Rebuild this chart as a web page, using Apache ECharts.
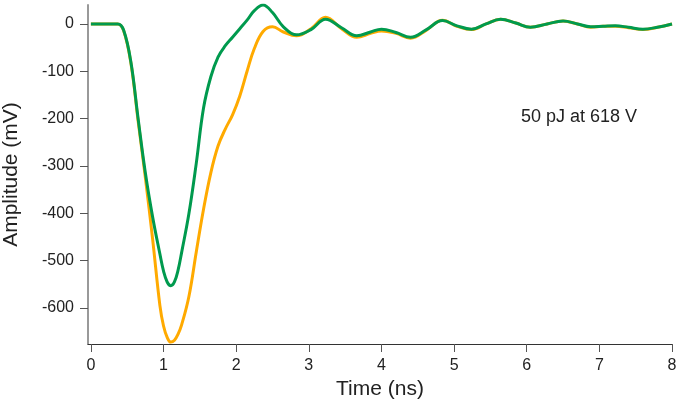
<!DOCTYPE html>
<html>
<head>
<meta charset="utf-8">
<script src="https://cdn.jsdelivr.net/npm/echarts@6/dist/echarts.min.js"></script>
<style>
  html, body { margin: 0; padding: 0; background: #fff; }
  #chart { width: 677px; height: 404px; }
</style>
</head>
<body>
<div id="chart"></div>
<script>
// time axis (ns), shared by both traces
const timeNs = [0, 0.2, 0.37, 0.45, 0.55, 0.65, 0.75, 0.85, 0.95, 1.0, 1.05, 1.1, 1.15, 1.2, 1.25, 1.35, 1.45,
  1.55, 1.65, 1.75, 1.85, 1.95, 2.05, 2.15, 2.25, 2.37, 2.5, 2.65, 2.83, 3.03, 3.23, 3.45, 3.66,
  3.85, 4.0, 4.2, 4.4, 4.62, 4.84, 5.04, 5.24, 5.44, 5.64, 5.85, 6.05, 6.28, 6.5, 6.7, 6.88,
  7.05, 7.22, 7.4, 7.6, 7.8, 8.0];
// orange trace (mV)
const orangeMv = [0, 0, 0, -14, -82, -205, -325, -455, -595, -638, -662, -672, -668, -655, -635, -575, -482,
  -392, -315, -258, -222, -192, -152, -100, -52, -16, -6, -17, -25, -10, 14, -10, -28,
  -20, -15, -20, -30, -13, 8, -5, -12, 0, 10, 2, -7, 0, 6, 0, -7,
  -5, -5, -8, -12, -7, 0];
// green trace (mV)
const greenMv = [0, 0, 0, -13, -80, -200, -315, -408, -486, -522, -545, -553, -545, -520, -482, -400, -295,
  -178, -112, -70, -46, -28, -10, 8, 28, 40, 24, -6, -23, -12, 10, -8, -25,
  -17, -11, -18, -28, -12, 7, -4, -11, 0, 10, 2, -7, 0, 6, 0, -6,
  -5, -4, -7, -11, -7, 0];
const xTicks = [0, 1, 2, 3, 4, 5, 6, 7, 8];
const yTicks = [0, -100, -200, -300, -400, -500, -600];
const note = "50 pJ at 618 V";

const chart = echarts.init(document.getElementById("chart"));
const font = "Liberation Sans, Arial, sans-serif";

const pairs = (ys) => timeNs.map((t, i) => [t, ys[i]]);

chart.setOption({
  animation: false,
  grid: { left: 88, right: 5, top: 5, bottom: 60, containLabel: false, outerBoundsMode: "none" },
  xAxis: {
    type: "value",
    min: -0.04,
    max: 8,
    name: "Time (ns)",
    nameLocation: "middle",
    nameGap: 31,
    nameTextStyle: { fontFamily: font, fontSize: 21, color: "#222" },
    axisLine: { show: true, onZero: false, lineStyle: { color: "#333", width: 1 } },
    axisTick: { show: true, customValues: xTicks, length: 8, lineStyle: { color: "#555" } },
    axisLabel: {
      customValues: xTicks,
      margin: 14,
      fontFamily: font,
      fontSize: 16,
      color: "#222",
    },
    splitLine: { show: false },
  },
  yAxis: {
    type: "value",
    min: -676,
    max: 40,
    name: "Amplitude (mV)",
    nameLocation: "middle",
    nameGap: 66,
    nameRotate: 90,
    nameTextStyle: { fontFamily: font, fontSize: 21, color: "#222" },
    axisLine: { show: true, onZero: false, lineStyle: { color: "#999", width: 2 } },
    axisTick: { show: true, customValues: yTicks, length: 8, lineStyle: { color: "#555" } },
    axisLabel: {
      customValues: yTicks,
      margin: 14,
      fontFamily: font,
      fontSize: 16,
      color: "#222",
    },
    splitLine: { show: false },
  },
  graphic: [
    {
      type: "text",
      left: 521,
      top: 108,
      style: { text: note, font: "18px " + font, fill: "#222" },
    },
  ],
  series: [
    {
      type: "line",
      data: pairs(orangeMv),
      smooth: 0.4,
      showSymbol: false,
      lineStyle: { color: "#FFAA00", width: 3 },
    },
    {
      type: "line",
      data: pairs(greenMv),
      smooth: 0.4,
      showSymbol: false,
      lineStyle: { color: "#009A4E", width: 3 },
    },
  ],
});
</script>
</body>
</html>
